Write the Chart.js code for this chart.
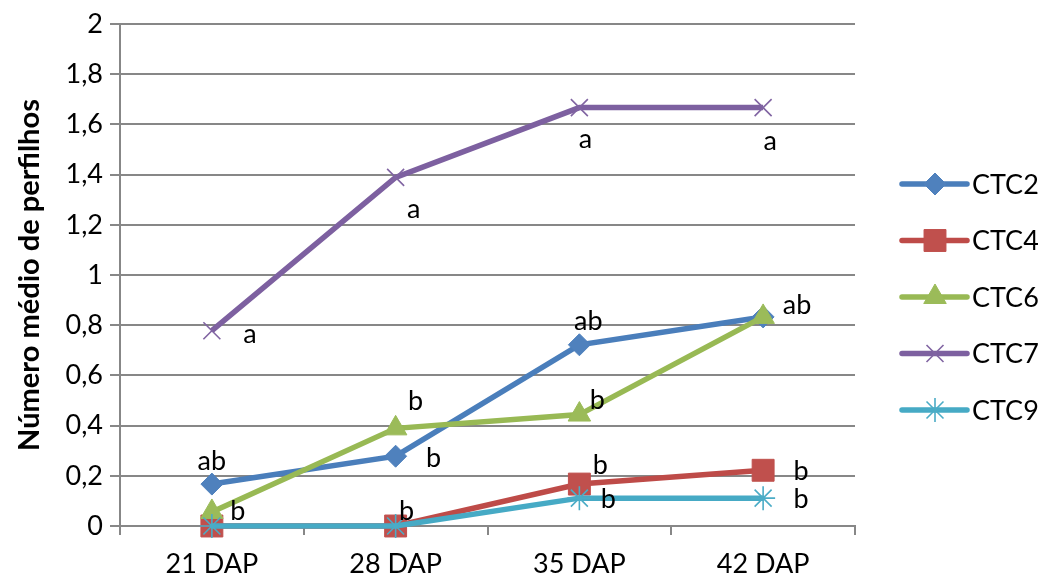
<!DOCTYPE html>
<html>
<head>
<meta charset="utf-8">
<script src="https://cdn.jsdelivr.net/npm/chart.js@4.4.1/dist/chart.umd.min.js"></script>
<style>
  html, body { margin: 0; padding: 0; background: #ffffff; }
  #wrap { width: 1038px; height: 578px; position: relative; }
</style>
</head>
<body>
<div id="wrap"><canvas id="chart" width="1038" height="578"></canvas></div>
<script>
// Categories and series values
const categories = ['21 DAP', '28 DAP', '35 DAP', '42 DAP'];
const seriesNames = ['CTC2', 'CTC4', 'CTC6', 'CTC7', 'CTC9'];
const ctc2 = [0.167, 0.278, 0.722, 0.833];
const ctc4 = [0, 0, 0.167, 0.222];
const ctc6 = [0.056, 0.389, 0.444, 0.833];
const ctc7 = [0.778, 1.389, 1.667, 1.667];
const ctc9 = [0, 0, 0.111, 0.111];

// Significance letters shown beside each point (null = none)
const letters2 = ['ab', 'b', 'ab', 'ab'];
const letters4 = [null, 'b', 'b', 'b'];
const letters6 = ['b', 'b', 'b', null];
const letters7 = ['a', 'a', 'a', 'a'];
const letters9 = [null, null, 'b', 'b'];

// Y axis tick values
const yTickValues = [0, 0.2, 0.4, 0.6, 0.8, 1, 1.2, 1.4, 1.6, 1.8, 2];

const FONT = 'Lato, "Open Sans", sans-serif';
const FS = 27;
const GRID = '#878787';

// Placement of each letter relative to its point (pixels, text baseline)
const letterOffsets = {
  CTC2: [[0, -14], [38, 11], [9, -15], [34, -3]],
  CTC4: [null, [11, -6], [21, -10], [38, 10]],
  CTC6: [[26, 8], [20, -18], [18, -6], null],
  CTC7: [[38, 12], [18, 41], [6, 40], [7, 42]],
  CTC9: [null, null, [29, 10], [38, 10]]
};

const styles = {
  CTC2: { line: '#4A7EBB', fill: '#4F81BD', point: 'rectRot', r: 11, bw: 1 },
  CTC4: { line: '#BE4B48', fill: '#C0504D', point: 'rect', r: 15.5, bw: 1 },
  CTC6: { line: '#98B954', fill: '#9BBB59', point: 'triangle', r: 13, bw: 1 },
  CTC7: { line: '#7D60A0', fill: '#8064A2', point: 'crossRot', r: 12, bw: 1.6 },
  CTC9: { line: '#46AAC5', fill: '#4BACC6', point: 'star', r: 12, bw: 1.6 }
};

const values = { CTC2: ctc2, CTC4: ctc4, CTC6: ctc6, CTC7: ctc7, CTC9: ctc9 };
const letters = { CTC2: letters2, CTC4: letters4, CTC6: letters6, CTC7: letters7, CTC9: letters9 };

const datasets = seriesNames.map((name, i) => {
  const s = styles[name];
  return {
    label: name,
    data: values[name],
    borderColor: s.line,
    borderWidth: 5.5,
    backgroundColor: s.fill,
    pointStyle: s.point,
    pointRadius: s.r,
    pointHoverRadius: s.r,
    pointBackgroundColor: s.fill,
    pointBorderColor: s.fill,
    pointBorderWidth: s.bw,
    tension: 0,
    fill: false,
    clip: false,
    order: seriesNames.length - i
  };
});

// Draws the significance letters next to each point
const letterPlugin = {
  id: 'letters',
  afterDatasetsDraw(chart) {
    const ctx = chart.ctx;
    ctx.save();
    ctx.font = FS + 'px ' + FONT;
    ctx.fillStyle = '#000000';
    ctx.textAlign = 'center';
    ctx.textBaseline = 'alphabetic';
    chart.data.datasets.forEach((ds, di) => {
      const name = ds.label;
      const meta = chart.getDatasetMeta(di);
      letters[name].forEach((txt, j) => {
        const off = letterOffsets[name][j];
        if (!txt || !off) return;
        const pt = meta.data[j];
        ctx.fillText(txt, pt.x + off[0], pt.y + off[1]);
      });
    });
    ctx.restore();
  }
};

// Legend on the right: line segment with marker, then series name
const legendPlugin = {
  id: 'sideLegend',
  afterDraw(chart) {
    const ctx = chart.ctx;
    const x0 = 902, x1 = 967, xm = 935, tx = 972;
    const y0 = 184, dy = 56.5;
    ctx.save();
    seriesNames.forEach((name, i) => {
      const s = styles[name];
      const y = y0 + i * dy;
      ctx.beginPath();
      ctx.lineCap = 'round';
      ctx.lineWidth = 5.5;
      ctx.strokeStyle = s.line;
      ctx.moveTo(x0, y);
      ctx.lineTo(x1, y);
      ctx.stroke();
      ctx.fillStyle = s.fill;
      ctx.strokeStyle = s.fill;
      ctx.lineWidth = s.bw;
      ctx.lineCap = 'butt';
      Chart.helpers.drawPoint(ctx, { pointStyle: s.point, radius: s.r, borderWidth: s.bw, rotation: 0 }, xm, y);
      ctx.fillStyle = '#000000';
      ctx.font = FS + 'px ' + FONT;
      ctx.textAlign = 'left';
      ctx.textBaseline = 'middle';
      ctx.fillText(name, tx, y + 1);
    });
    ctx.restore();
  }
};

new Chart(document.getElementById('chart'), {
  type: 'line',
  data: { labels: categories, datasets },
  plugins: [letterPlugin, legendPlugin],
  options: {
    responsive: false,
    animation: false,
    events: [],
    layout: { padding: { left: 0, right: 183, top: 24, bottom: 0 } },
    plugins: { legend: { display: false }, tooltip: { enabled: false } },
    scales: {
      x: {
        type: 'category',
        offset: true,
        grid: { offset: true, drawOnChartArea: false, drawTicks: true, tickLength: 9, color: GRID, lineWidth: 2 },
        border: { color: GRID, width: 2 },
        ticks: { color: '#000000', font: { family: FONT, size: FS }, padding: 13, maxRotation: 0 },
        afterFit(scale) { scale.height = 52; }
      },
      y: {
        min: 0,
        max: 2,
        afterBuildTicks(scale) { scale.ticks = yTickValues.map(v => ({ value: v })); },
        ticks: {
          color: '#000000',
          font: { family: FONT, size: FS },
          padding: 7,
          callback: v => String(Math.round(v * 10) / 10).replace('.', ',')
        },
        grid: { color: GRID, lineWidth: 2, tickLength: 10 },
        border: { color: GRID, width: 2 },
        title: {
          display: true,
          text: 'Número médio de perfilhos',
          color: '#000000',
          font: { family: FONT, size: 29, weight: 'bold' },
          padding: { top: 12, bottom: 0 }
        },
        afterFit(scale) { scale.width = 120; }
      }
    }
  }
});
</script>
</body>
</html>
